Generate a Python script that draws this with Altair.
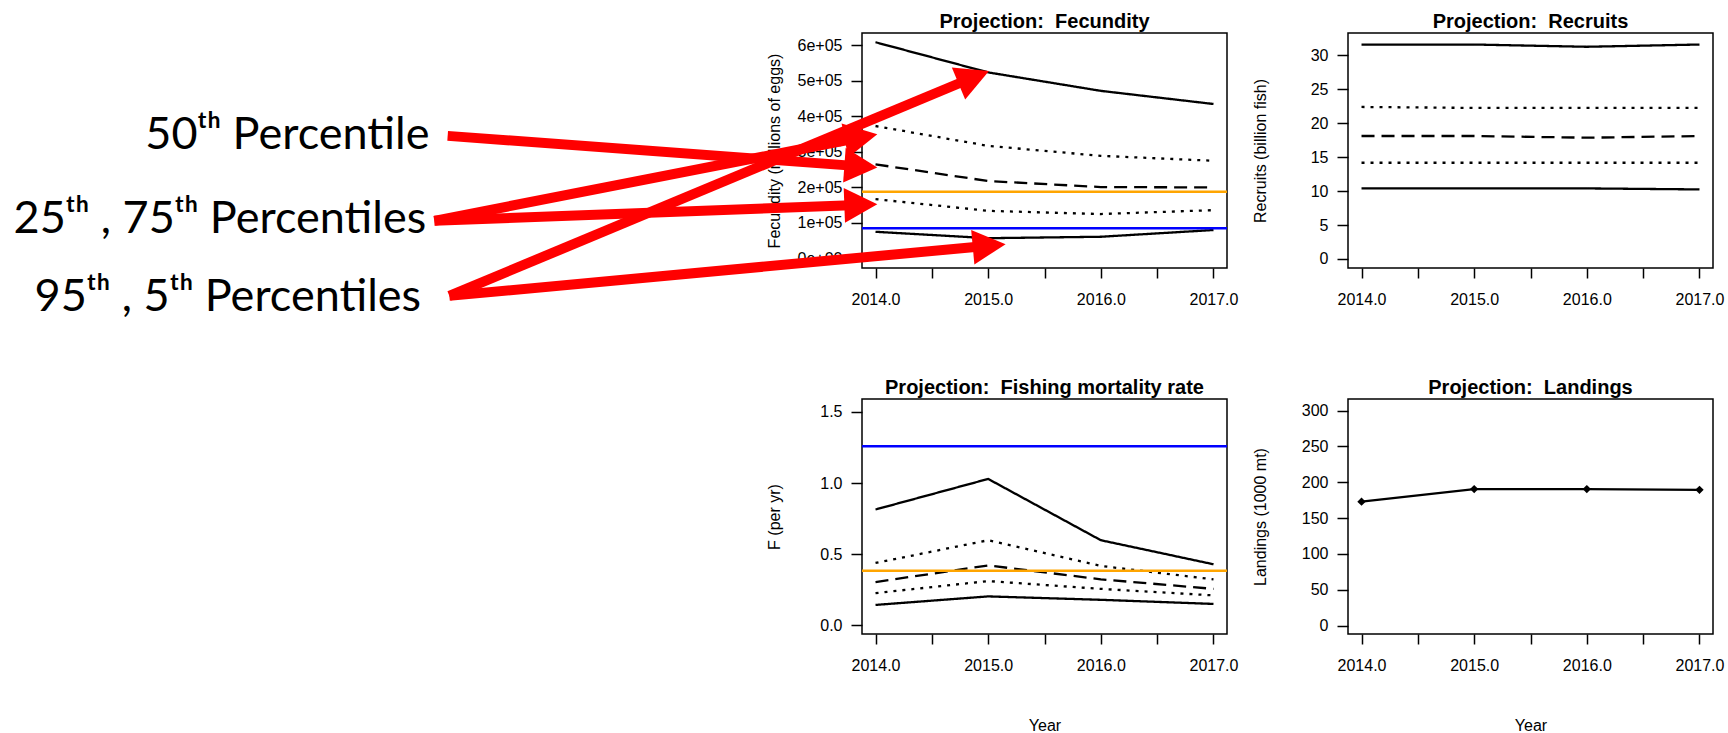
import math
import altair as alt
import pandas as pd

# ---------------- data ----------------
years = [2014, 2015, 2016, 2017]
pct_names = ["95th", "75th", "50th", "25th", "5th"]

fec_p95 = [608000, 523000, 471000, 434000]
fec_p75 = [372000, 316000, 288000, 274000]
fec_p50 = [264000, 217000, 200000, 199000]
fec_p25 = [166000, 133000, 124000, 135000]
fec_p05 = [74000, 56000, 60000, 79000]
fec_ref_orange = [187000]
fec_ref_blue = [84000]

rec_p95 = [31.6, 31.6, 31.27, 31.6]
rec_p75 = [22.4, 22.26, 22.26, 22.26]
rec_p50 = [18.12, 18.12, 17.87, 18.12]
rec_p25 = [14.18, 14.18, 14.18, 14.18]
rec_p05 = [10.4, 10.4, 10.4, 10.25]

f_p95 = [0.814, 1.029, 0.598, 0.429]
f_p75 = [0.438, 0.598, 0.417, 0.323]
f_p50 = [0.304, 0.421, 0.323, 0.256]
f_p25 = [0.226, 0.311, 0.256, 0.210]
f_p05 = [0.143, 0.203, 0.179, 0.150]
f_ref_blue = [1.259]
f_ref_orange = [0.384]

landings = [173, 190.5, 190.5, 189.5]

x_ticks = [2014, 2014.5, 2015, 2015.5, 2016, 2016.5, 2017]
fec_ticks = [0, 100000, 200000, 300000, 400000, 500000, 600000]
rec_ticks = [0, 5, 10, 15, 20, 25, 30]
f_ticks = [0.0, 0.5, 1.0, 1.5]
lan_ticks = [0, 50, 100, 150, 200, 250, 300]

# annotation (in Fecundity panel data units)
label_text = ["50\u1d57\u02b0 Percentile",
              "25\u1d57\u02b0 , 75\u1d57\u02b0 Percentiles",
              "95\u1d57\u02b0 , 5\u1d57\u02b0 Percentiles"]
label_year = [2010.04, 2010.011, 2009.966]
label_value = [306800, 71800, -148700]

arrow_start_year = [2010.202, 2010.084, 2010.084, 2010.217, 2010.217]
arrow_start_value = [344200, 104800, 104800, -106500, -106500]
arrow_tip_year = [2014.016, 2014.016, 2014.016, 2015.007, 2015.155]
arrow_tip_value = [254900, 349000, 151800, 527300, 39200]

# ---------------- layout / style ----------------
W, H = 365, 235
XDOM = [2013.88, 2017.12]
FEC_DOM = [-28000, 634000]
REC_DOM = [-1.33, 33.3]
F_DOM = [-0.0614, 1.591]
LAN_DOM = [-11.8, 316.3]
FONT = "Liberation Sans"
HEAD_LEN = 33.0

dash_scale = alt.Scale(domain=pct_names,
                       range=[[1, 0], [3, 6], [13, 7], [3, 6], [1, 0]])


def long_df(series):
    rows = []
    for name, vals in zip(pct_names, series):
        for yr, v in zip(years, vals):
            rows.append({"year": yr, "value": v, "pct": name})
    return pd.DataFrame(rows)


def x_enc(field, show_title):
    return alt.X(field, type="quantitative",
                 scale=alt.Scale(domain=XDOM, nice=False, zero=False),
                 axis=alt.Axis(values=x_ticks,
                               labelExpr="datum.value % 1 == 0 ? format(datum.value, '.1f') : ''",
                               domain=False, grid=False, tickSize=10, tickColor="black",
                               tickWidth=1.5, labelPadding=13, labelFontSize=16, labelFont=FONT,
                               labelColor="black", labelOverlap=False, labelFlush=False,
                               title="Year" if show_title else None, titleY=91,
                               titleBaseline="middle", titleFontWeight="normal",
                               titleFontSize=16, titleFont=FONT, titleColor="black"))


def y_enc(field, dom, ticks, title, label_expr=None, fmt=None):
    kw = dict(values=ticks, domain=False, grid=False, tickSize=11, tickColor="black",
              tickWidth=1.5, labelPadding=9, labelFontSize=16, labelFont=FONT,
              labelColor="black", labelOverlap=False, labelFlush=False,
              title=title, titleX=-88, titleBaseline="middle", titleFontWeight="normal",
              titleFontSize=16, titleFont=FONT, titleColor="black")
    if label_expr:
        kw["labelExpr"] = label_expr
    if fmt:
        kw["format"] = fmt
    return alt.Y(field, type="quantitative",
                 scale=alt.Scale(domain=dom, nice=False, zero=False),
                 axis=alt.Axis(**kw))


def ptitle(text):
    return alt.TitleParams(text, font=FONT, fontSize=20, fontWeight="bold", color="black",
                           frame="group", anchor="middle", offset=1)


def pct_lines(df, xe, ye):
    return alt.Chart(df).mark_line(color="black", strokeWidth=2.3).encode(
        x=xe, y=ye,
        strokeDash=alt.StrokeDash("pct:N", scale=dash_scale, legend=None),
        detail="pct:N")


def ref_rule(vals, color, ye):
    return alt.Chart(pd.DataFrame({"value": vals})).mark_rule(
        color=color, strokeWidth=2.5).encode(y=ye)


# ---------------- Fecundity panel with annotations ----------------
FEC_LABEL_EXPR = "datum.value == 0 ? '0e+00' : format(datum.value / 100000, 'd') + 'e+05'"
fx = x_enc("year", False)
fy = y_enc("value", FEC_DOM, fec_ticks, "Fecundity (millions of eggs)", label_expr=FEC_LABEL_EXPR)

sx = W / (XDOM[1] - XDOM[0])
sy = H / (FEC_DOM[1] - FEC_DOM[0])
arrow_rows = []
for x0, y0, x1, y1 in zip(arrow_start_year, arrow_start_value, arrow_tip_year, arrow_tip_value):
    dxp = (x1 - x0) * sx
    dyp = -(y1 - y0) * sy
    L = math.hypot(dxp, dyp)
    ang = math.degrees(math.atan2(dyp, dxp)) % 360
    f = (HEAD_LEN * 0.6) / L
    arrow_rows.append({"year": x0, "value": y0,
                       "year2": x1 - (x1 - x0) * f, "value2": y1 - (y1 - y0) * f,
                       "tip_year": x1, "tip_value": y1, "angle": ang})
arrow_df = pd.DataFrame(arrow_rows)

fec_df = long_df([fec_p95, fec_p75, fec_p50, fec_p25, fec_p05])
fec = alt.layer(
    pct_lines(fec_df, fx, fy),
    ref_rule(fec_ref_orange, "#FFA500", fy),
    ref_rule(fec_ref_blue, "#0000FF", fy),
    alt.Chart(arrow_df).mark_rule(color="#FF0000", strokeWidth=10).encode(
        x=fx, y=fy, x2="year2", y2="value2"),
    alt.Chart(arrow_df).mark_point(
        shape="M0,0 L-2,-1.05 L-2,1.05 Z", filled=True, color="#FF0000", opacity=1,
        size=HEAD_LEN * HEAD_LEN).encode(
        x=x_enc("tip_year", False),
        y=y_enc("tip_value", FEC_DOM, fec_ticks, "Fecundity (millions of eggs)", label_expr=FEC_LABEL_EXPR),
        angle=alt.Angle("angle:Q", scale=None)),
    alt.Chart(pd.DataFrame({"year": label_year, "value": label_value, "label": label_text})).mark_text(
        align="right", baseline="alphabetic", font="Lato, 'Noto Sans', 'DejaVu Sans'",
        fontSize=45, color="black").encode(x=fx, y=fy, text="label:N"),
).properties(width=W, height=H, title=ptitle("Projection:\u00a0 Fecundity"))

# ---------------- Recruits ----------------
rx = x_enc("year", False)
ry = y_enc("value", REC_DOM, rec_ticks, "Recruits (billion fish)")
rec = pct_lines(long_df([rec_p95, rec_p75, rec_p50, rec_p25, rec_p05]), rx, ry).properties(
    width=W, height=H, title=ptitle("Projection:\u00a0 Recruits"))

# ---------------- Fishing mortality ----------------
mx = x_enc("year", True)
my = y_enc("value", F_DOM, f_ticks, "F (per yr)", fmt=".1f")
fmr = alt.layer(
    pct_lines(long_df([f_p95, f_p75, f_p50, f_p25, f_p05]), mx, my),
    ref_rule(f_ref_blue, "#0000FF", my),
    ref_rule(f_ref_orange, "#FFA500", my),
).properties(width=W, height=H, title=ptitle("Projection:\u00a0 Fishing mortality rate"))

# ---------------- Landings ----------------
lx = x_enc("year", True)
ly = y_enc("value", LAN_DOM, lan_ticks, "Landings (1000 mt)")
lan_df = pd.DataFrame({"year": years, "value": landings})
lan = alt.layer(
    alt.Chart(lan_df).mark_line(color="black", strokeWidth=2.3).encode(x=lx, y=ly),
    alt.Chart(lan_df).mark_point(shape="diamond", filled=True, color="black", opacity=1,
                                 size=70).encode(x=lx, y=ly),
).properties(width=W, height=H, title=ptitle("Projection:\u00a0 Landings"))

chart = alt.concat(fec, rec, fmr, lan, columns=2,
                   spacing={"row": 131, "column": 121}, bounds="flush").properties(
    padding={"left": 12, "top": 11, "right": 0, "bottom": 0},
    background="white",
).configure(font=FONT).configure_view(stroke="black", strokeWidth=1.5)

chart.save("out.html", embed_options={"renderer": "svg", "actions": False})
